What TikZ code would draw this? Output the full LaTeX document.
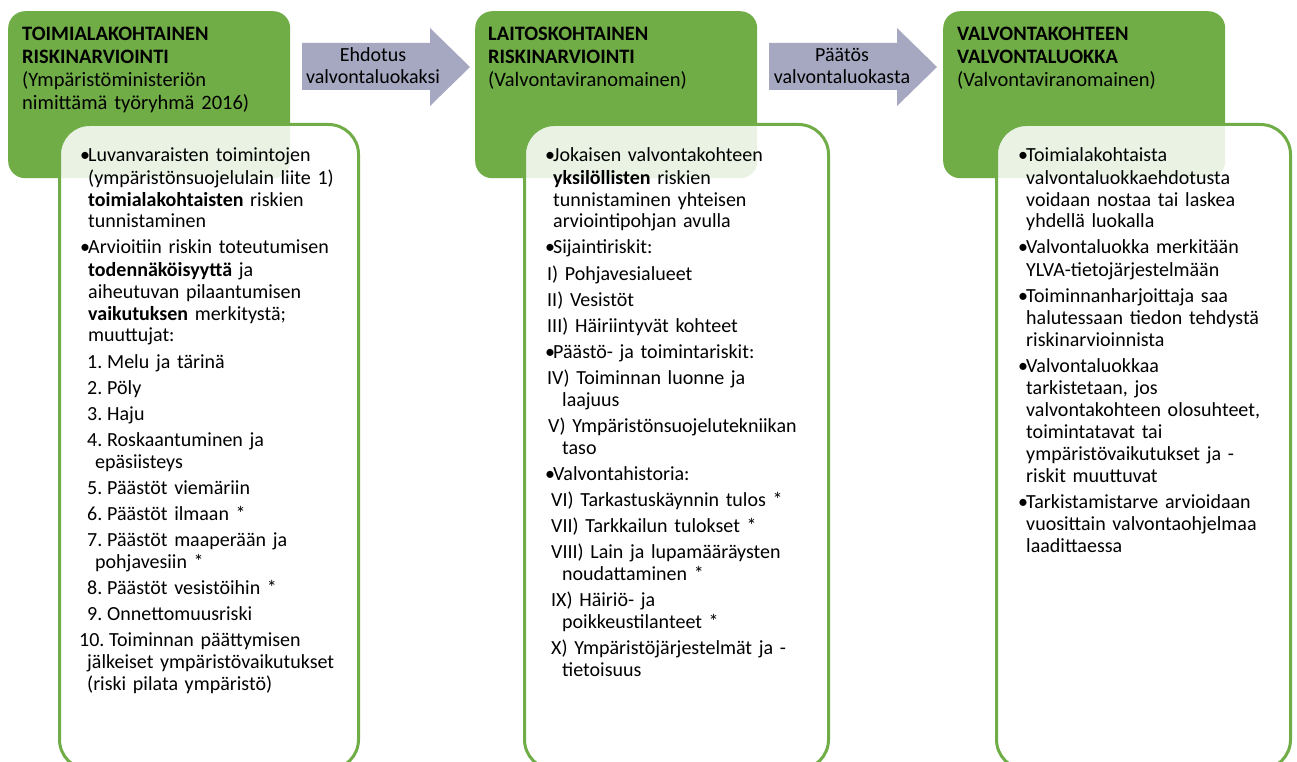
\documentclass[tikz,border=0pt]{standalone}
\usepackage{fontspec}
\setmainfont{Carlito}
\definecolor{grn}{HTML}{70AD47}
\definecolor{arr}{HTML}{A6A8C2}
\newcommand{\nl}{\hfil\break}
\newcommand{\bl}[1]{\hangindent=8pt\hangafter=1\noindent\makebox[8pt][l]{\textbullet}#1\par}
\newcommand{\numitm}[5]{\hangindent=#2\hangafter=1\noindent\hspace*{#1}\makebox[#3][l]{#4}#5\par}
\newcommand{\romitm}[3]{\hangindent=#2\hangafter=1\noindent\hspace*{#1}#3\par}
\begin{document}
\begin{tikzpicture}[x=1pt,y=-1pt,
  greenbox/.style={fill=grn, rounded corners=17pt, anchor=north west, inner sep=0, minimum width=282pt, minimum height=167pt},
  panel/.style={draw=grn, line width=3pt, fill=white, fill opacity=0.85, rounded corners=30pt, anchor=north west, inner sep=0, minimum height=645pt},
  head/.style={anchor=base west, inner sep=0, text width=275pt, align=left, font=\fontsize{20.5}{22.8}\selectfont},
  body/.style={anchor=base west, inner sep=0, text width=300pt, align=left, font=\fontsize{20}{22}\selectfont},
  arrowtext/.style={anchor=base, inner sep=0, text width=170pt, align=center, font=\fontsize{20}{21.5}\selectfont},
  blockarrow/.style={fill=arr}]
\clip (0,0) rectangle (1297,762);
% header boxes
\node[greenbox] (g1) at (8,11) {};
\node[greenbox] (g2) at (475,11) {};
\node[greenbox] (g3) at (943,11) {};
% block arrows
\fill[blockarrow] (302,43) -- (430,43) -- (430,28) -- (470,67) -- (430,106) -- (430,90) -- (302,90) -- cycle;
\fill[blockarrow] (769,43) -- (897,43) -- (897,28) -- (937,67) -- (897,106) -- (897,90) -- (769,90) -- cycle;
\node[arrowtext] (a1) at (373,62) {Ehdotus\\valvontaluokaksi};
\node[arrowtext] (a2) at (842,62) {Päätös\\valvontaluokasta};
% panels
\node[panel, minimum width=299pt] (p1) at (58,123) {};
\node[panel, minimum width=304pt] (p2) at (523,123) {};
\node[panel, minimum width=294pt] (p3) at (995,123) {};
% header texts
\node[head] (h1) at (22,41) {\textbf{TOIMIALAKOHTAINEN\\RISKINARVIOINTI}\\(Ympäristöministeriön\\nimittämä työryhmä 2016)};
\node[head] (h2) at (488,41) {\textbf{LAITOSKOHTAINEN\\RISKINARVIOINTI}\\(Valvontaviranomainen)};
\node[head] (h3) at (957,41) {\textbf{VALVONTAKOHTEEN\\VALVONTALUOKKA}\\(Valvontaviranomainen)};
% panel texts
\node[body] (t1) at (80,162) {\setlength{\parskip}{4pt}%
\bl{Luvanvaraisten toimintojen\nl (ympäristönsuojelulain liite 1)\nl \textbf{toimialakohtaisten} riskien\nl tunnistaminen}%
\bl{Arvioitiin riskin toteutumisen\nl \textbf{todennäköisyyttä} ja\nl aiheutuvan pilaantumisen\nl \textbf{vaikutuksen} merkitystä;\nl muuttujat:}%
\numitm{7pt}{15pt}{20pt}{1.}{Melu ja tärinä}%
\numitm{7pt}{15pt}{20pt}{2.}{Pöly}%
\numitm{7pt}{15pt}{20pt}{3.}{Haju}%
\numitm{7pt}{15pt}{20pt}{4.}{Roskaantuminen ja\nl epäsiisteys}%
\numitm{7pt}{15pt}{20pt}{5.}{Päästöt viemäriin}%
\numitm{7pt}{15pt}{20pt}{6.}{Päästöt ilmaan *}%
\numitm{7pt}{15pt}{20pt}{7.}{Päästöt maaperään ja\nl pohjavesiin *}%
\numitm{7pt}{15pt}{20pt}{8.}{Päästöt vesistöihin *}%
\numitm{7pt}{15pt}{20pt}{9.}{Onnettomuusriski}%
\numitm{-1pt}{7pt}{30pt}{10.}{Toiminnan päättymisen\nl jälkeiset ympäristövaikutukset\nl (riski pilata ympäristö)}};
\node[body] (t2) at (545,162) {\setlength{\parskip}{4pt}%
\bl{Jokaisen valvontakohteen\nl \textbf{yksilöllisten} riskien\nl tunnistaminen yhteisen\nl arviointipohjan avulla}%
\bl{Sijaintiriskit:}%
\romitm{2pt}{17pt}{I) Pohjavesialueet}%
\romitm{2pt}{17pt}{II) Vesistöt}%
\romitm{2pt}{17pt}{III) Häiriintyvät kohteet}%
\bl{Päästö- ja toimintariskit:}%
\romitm{2pt}{17pt}{IV) Toiminnan luonne ja\nl laajuus}%
\romitm{3pt}{17pt}{V) Ympäristönsuojelutekniikan\nl taso}%
\bl{Valvontahistoria:}%
\romitm{6pt}{17pt}{VI) Tarkastuskäynnin tulos *}%
\romitm{6pt}{17pt}{VII) Tarkkailun tulokset *}%
\romitm{6pt}{17pt}{VIII) Lain ja lupamääräysten\nl noudattaminen *}%
\romitm{6pt}{17pt}{IX) Häiriö- ja\nl poikkeustilanteet *}%
\romitm{6pt}{17pt}{X) Ympäristöjärjestelmät ja -\nl tietoisuus}};
\node[body] (t3) at (1018,162) {\setlength{\parskip}{4pt}%
\bl{Toimialakohtaista\nl valvontaluokkaehdotusta\nl voidaan nostaa tai laskea\nl yhdellä luokalla}%
\bl{Valvontaluokka merkitään\nl YLVA-tietojärjestelmään}%
\bl{Toiminnanharjoittaja saa\nl halutessaan tiedon tehdystä\nl riskinarvioinnista}%
\bl{Valvontaluokkaa\nl tarkistetaan, jos\nl valvontakohteen olosuhteet,\nl toimintatavat tai\nl ympäristövaikutukset ja -\nl riskit muuttuvat}%
\bl{Tarkistamistarve arvioidaan\nl vuosittain valvontaohjelmaa\nl laadittaessa}};
\end{tikzpicture}
\end{document}
